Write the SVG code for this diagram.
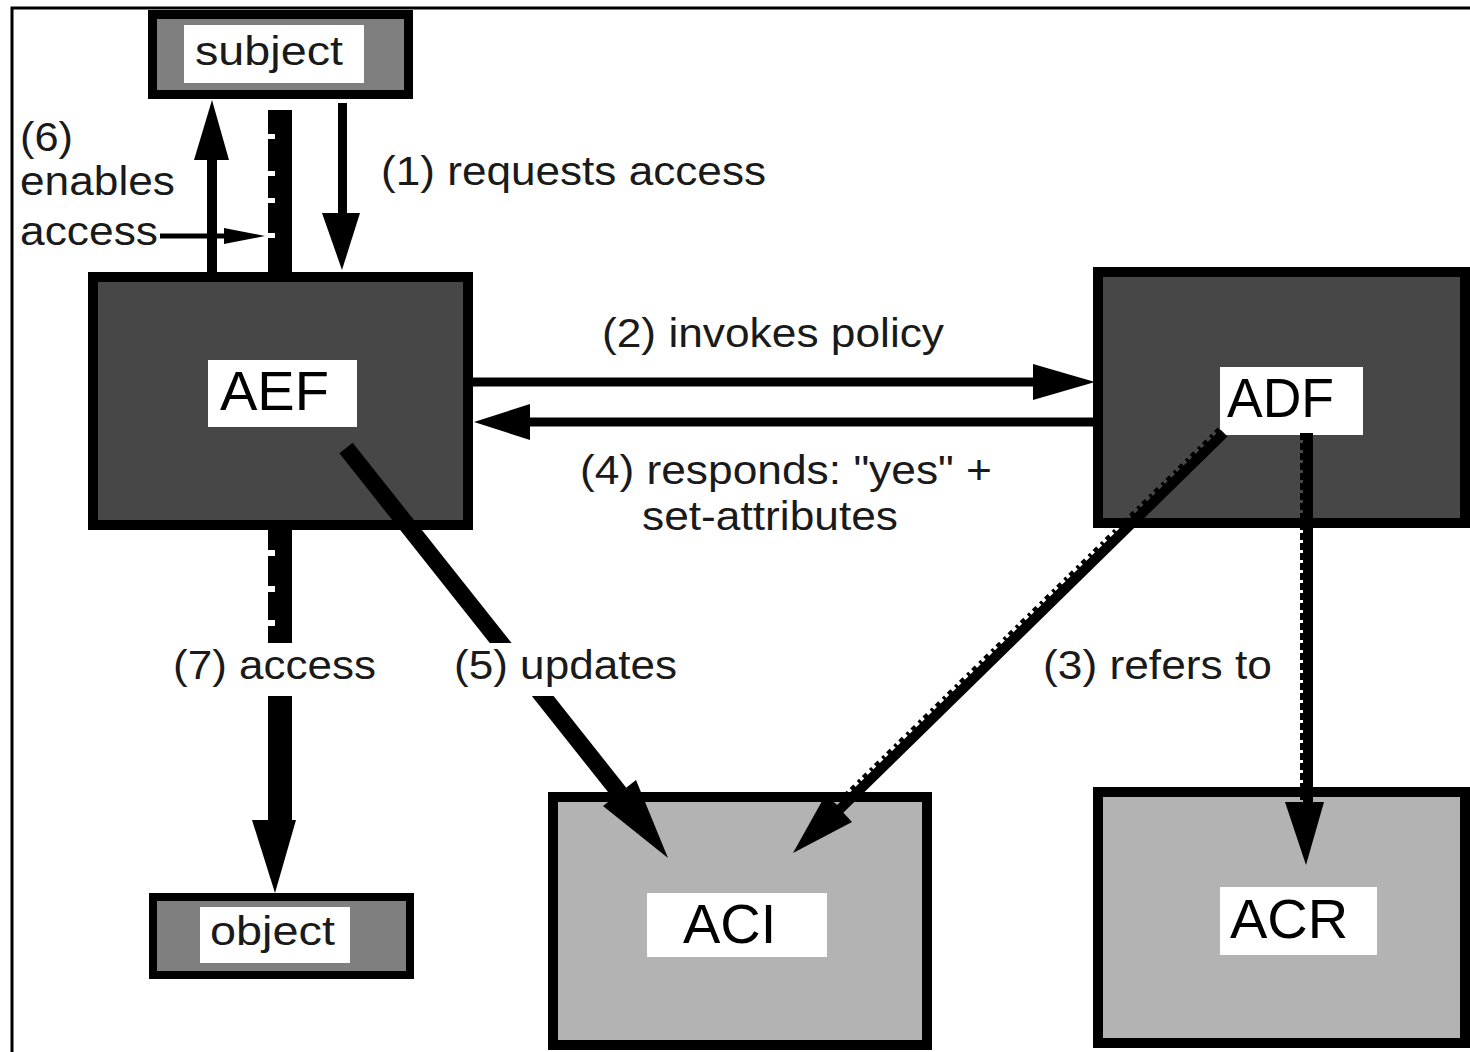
<svg xmlns="http://www.w3.org/2000/svg" width="1470" height="1052" viewBox="0 0 1470 1052">
<style>
.box{stroke:#000;stroke-width:10}
.dark{fill:#474747}
.mid{fill:#7f7f7f}
.light{fill:#b3b3b3}
.lbl{fill:#fff}
.big{font-family:"Liberation Sans",Arial,Helvetica,sans-serif;font-size:56px;fill:#000}
.t{font-family:"Liberation Sans",Arial,Helvetica,sans-serif;font-size:41px;fill:#1a1a1a}
.ar{fill:#000}
.dash{stroke:#000;fill:none}
</style>
<rect x="0" y="0" width="1470" height="1052" fill="#fff"/>
<path d="M12 1052 V8 H1470" fill="none" stroke="#000" stroke-width="3"/>

<g id="subject">
  <rect class="box mid" x="152.5" y="14.5" width="256" height="80" style="stroke-width:9"/>
  <rect class="lbl" x="184" y="25" width="180" height="58"/>
  <text class="t" x="195" y="65" textLength="148" lengthAdjust="spacingAndGlyphs">subject</text>
</g>

<g id="AEF">
  <rect class="box dark" x="93" y="277" width="375" height="248"/>
  <rect class="lbl" x="208" y="360" width="149" height="67"/>
  <text class="big" x="220" y="410">AEF</text>
</g>

<g id="ADF">
  <rect class="box dark" x="1098" y="272" width="367" height="251"/>
  <rect class="lbl" x="1220" y="367" width="143" height="68"/>
  <text class="big" x="1227" y="417" textLength="107" lengthAdjust="spacingAndGlyphs">ADF</text>
</g>

<g id="object">
  <rect class="box mid" x="153" y="897" width="257" height="78" style="stroke-width:8"/>
  <rect class="lbl" x="200" y="907" width="150" height="56"/>
  <text class="t" x="210" y="945" textLength="125" lengthAdjust="spacingAndGlyphs">object</text>
</g>

<g id="ACI">
  <rect class="box light" x="553" y="797" width="374" height="248"/>
  <rect class="lbl" x="647" y="893" width="180" height="64"/>
  <text class="big" x="683" y="943">ACI</text>
</g>

<g id="ACR">
  <rect class="box light" x="1098" y="792" width="367" height="251"/>
  <rect class="lbl" x="1220" y="887" width="157" height="68"/>
  <text class="big" x="1230" y="938">ACR</text>
</g>

<g id="connectors">
  <!-- (6) enables access: AEF -> subject -->
  <rect class="ar" x="207" y="158" width="10" height="114"/>
  <polygon class="ar" points="194,160 212,100 229,160"/>
  <!-- (1) requests access: subject -> AEF -->
  <rect class="ar" x="338" y="103" width="9" height="112"/>
  <polygon class="ar" points="322,213 342,270 360,213"/>
  <!-- access channel subject-AEF -->
  <rect class="ar" x="275" y="110" width="17" height="162"/>
  <line class="dash" x1="271.5" y1="110" x2="271.5" y2="272" stroke-width="7" stroke-dasharray="24 5 32 5 22 5 30 5 40"/>
  <!-- small access pointer -->
  <line x1="160" y1="236" x2="230" y2="236" stroke="#000" stroke-width="5"/>
  <polygon class="ar" points="224,228 265,236 224,244"/>
  <!-- (2) invokes policy -->
  <line x1="473" y1="382" x2="1036" y2="382" stroke="#000" stroke-width="9"/>
  <polygon class="ar" points="1033,364 1095,382 1033,400"/>
  <!-- (4) responds -->
  <line x1="527" y1="422" x2="1093" y2="422" stroke="#000" stroke-width="9"/>
  <polygon class="ar" points="530,404 474,422 530,440"/>
  <!-- (5) updates: AEF -> ACI -->
  <line x1="346" y1="448" x2="622" y2="796" stroke="#000" stroke-width="17"/>
  <polygon class="ar" points="636,780 668,858 603,806"/>
  <!-- (7) access: AEF -> object -->
  <rect class="ar" x="275" y="530" width="17" height="292"/>
  <line class="dash" x1="271.5" y1="530" x2="271.5" y2="822" stroke-width="7" stroke-dasharray="20 6 30 6 28 6 200"/>
  <polygon class="ar" points="252,820 275,893 296,820"/>
  <!-- (3) refers to: ADF -> ACR -->
  <rect class="ar" x="1303" y="433" width="10" height="372"/>
  <line class="dash" x1="1301.5" y1="433" x2="1301.5" y2="805" stroke-width="3" stroke-dasharray="7 3"/>
  <polygon class="ar" points="1285,802 1306,865 1324,802"/>
  <!-- ADF -> ACI -->
  <line x1="1224" y1="433" x2="839" y2="810" stroke="#000" stroke-width="10"/>
  <line class="dash" x1="1219" y1="429" x2="834" y2="806" stroke-width="4" stroke-dasharray="5 4 3 5"/>
  <polygon class="ar" points="826,794 793,853 852,822"/>
  <!-- label backgrounds that interrupt the lines -->
  <rect x="165" y="643" width="220" height="53" fill="#fff"/>
  <rect x="446" y="643" width="244" height="53" fill="#fff"/>
</g>

<g id="labels">
  <text class="t" x="20" y="151" textLength="53" lengthAdjust="spacingAndGlyphs">(6)</text>
  <text class="t" x="20" y="195" textLength="155" lengthAdjust="spacingAndGlyphs">enables</text>
  <text class="t" x="20" y="245" textLength="138" lengthAdjust="spacingAndGlyphs">access</text>
  <text class="t" x="381" y="185" textLength="385" lengthAdjust="spacingAndGlyphs">(1) requests access</text>
  <text class="t" x="602" y="347" textLength="342" lengthAdjust="spacingAndGlyphs">(2) invokes policy</text>
  <text class="t" x="580" y="484" textLength="412" lengthAdjust="spacingAndGlyphs">(4) responds: "yes" +</text>
  <text class="t" x="642" y="530" textLength="256" lengthAdjust="spacingAndGlyphs">set-attributes</text>
  <text class="t" x="173" y="679" textLength="203" lengthAdjust="spacingAndGlyphs">(7) access</text>
  <text class="t" x="454" y="679" textLength="223" lengthAdjust="spacingAndGlyphs">(5) updates</text>
  <text class="t" x="1043" y="679" textLength="229" lengthAdjust="spacingAndGlyphs">(3) refers to</text>
</g>
</svg>
